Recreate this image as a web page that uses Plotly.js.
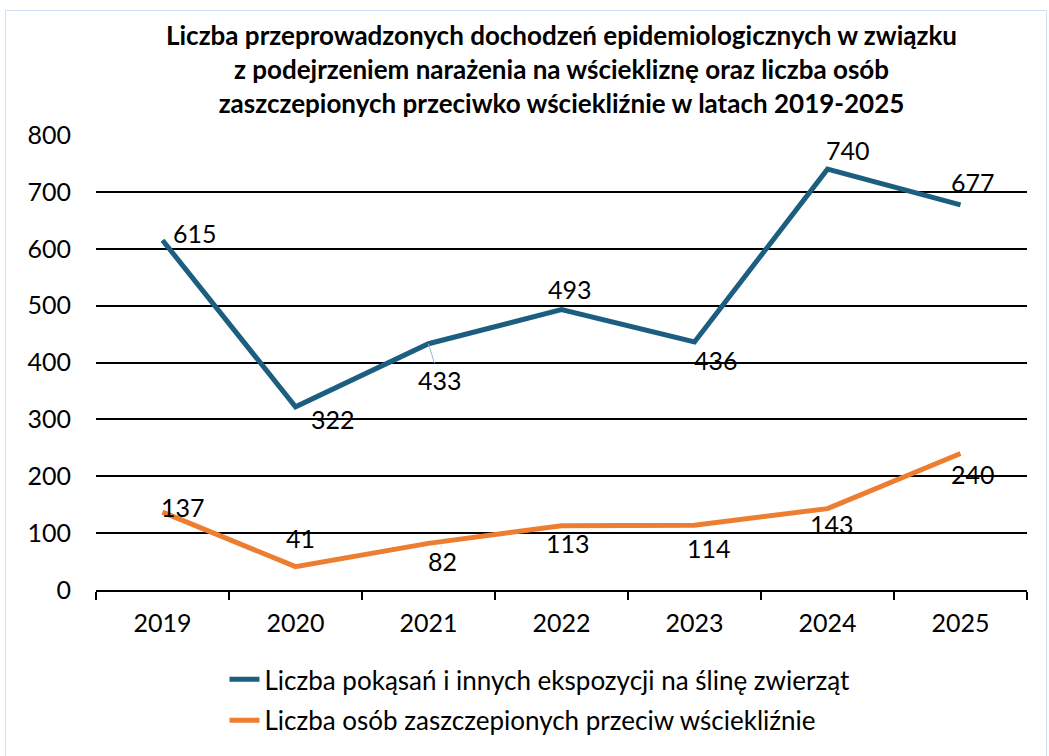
<!DOCTYPE html>
<html>
<head>
<meta charset="utf-8">
<script src="https://cdn.plot.ly/plotly-3.0.1.min.js"></script>
<style>
  body { margin: 0; background: #fff; }
  #chart { width: 1049px; height: 756px; }
  #frame { position: absolute; left: 5px; top: 10px; width: 1040px; height: 760px;
           border: 1.5px solid #cfe2f3; pointer-events: none; }
</style>
</head>
<body>
<div id="chart"></div>
<div id="frame"></div>
<script>
const years = ["2019", "2020", "2021", "2022", "2023", "2024", "2025"];
const bites = [615, 322, 433, 493, 436, 740, 677];
const vaccinated = [137, 41, 82, 113, 114, 143, 240];

const bitesName = "Liczba pokąsań i innych ekspozycji na ślinę zwierząt";
const vaccName = "Liczba osób zaszczepionych przeciw wściekliźnie";

// label offsets from the point, in px (right, down)
const bitesLabelShift = [[32, -7], [37, 12], [11, 36], [8, -21], [21, 18], [20, -19], [12, -23]];
const vaccLabelShift = [[20, -5], [5, -29], [14, 18], [6, 17], [14, 23], [4, 15], [12, 20]];

const labelFont = { family: "Lato, 'Liberation Sans', sans-serif", size: 25, color: "#000" };

const traces = [
  {
    x: years,
    y: bites,
    name: bitesName,
    legendgroup: "bites",
    type: "scatter",
    mode: "lines",
    line: { color: "#1b5e7f", width: 5 },
    hoverinfo: "x+y"
  },
  {
    x: years,
    y: vaccinated,
    name: vaccName,
    legendgroup: "vacc",
    type: "scatter",
    mode: "lines",
    line: { color: "#ed7d31", width: 5 },
    hoverinfo: "x+y"
  }
];

function makeLabels(values, shifts, leaderIndex) {
  const out = [];
  values.forEach((v, i) => {
    const dx = shifts[i][0];
    const dy = shifts[i][1];
    const ann = {
      x: i, y: v, xref: "x", yref: "y",
      text: String(v),
      font: labelFont,
      xanchor: "center", yanchor: "middle"
    };
    if (i === leaderIndex) {
      // 2021 blue label sits below with a thin leader line
      ann.showarrow = true;
      ann.arrowhead = 0;
      ann.arrowwidth = 1;
      ann.arrowcolor = "#8fb8de";
      ann.ax = dx;
      ann.ay = dy;
    } else {
      ann.showarrow = false;
      ann.xshift = dx;
      ann.yshift = -dy;
    }
    out.push(ann);
  });
  return out;
}

const titleAnnotation = {
  text: "<b>Liczba przeprowadzonych dochodzeń epidemiologicznych w związku<br>z podejrzeniem narażenia na wściekliznę oraz liczba osób<br>zaszczepionych przeciwko wściekliźnie w latach 2019-2025</b>",
  font: { family: "Lato, sans-serif", size: 26, color: "#000" },
  xref: "paper", yref: "paper",
  x: 0.5, y: 1.26,
  xanchor: "center", yanchor: "top",
  showarrow: false
};

const annotations = [titleAnnotation]
  .concat(makeLabels(bites, bitesLabelShift, 2))
  .concat(makeLabels(vaccinated, vaccLabelShift, -1));

const layout = {
  width: 1049,
  height: 756,
  font: { family: "Lato, sans-serif", size: 25, color: "#000" },
  xaxis: {
    type: "category",
    range: [-0.5, 6.5],
    showgrid: false,
    showline: true,
    linecolor: "#000",
    linewidth: 1.5,
    ticks: "outside",
    tickson: "boundaries",
    ticklen: 8,
    tickcolor: "#000",
    tickwidth: 1.5,
    ticklabelstandoff: 10,
    tickfont: { size: 25 },
    fixedrange: true
  },
  yaxis: {
    range: [0, 800],
    dtick: 100,
    showgrid: true,
    gridcolor: "#000",
    gridwidth: 1.5,
    zeroline: false,
    showline: false,
    ticks: "",
    ticklabelstandoff: 24,
    tickfont: { size: 25 },
    fixedrange: true
  },
  legend: {
    orientation: "v",
    x: 0.138,
    xanchor: "left",
    y: -0.145,
    yanchor: "top",
    tracegroupgap: 4,
    font: { size: 26 }
  },
  showlegend: true,
  annotations: annotations,
  margin: { t: 135, l: 96, r: 22, b: 164 },
  paper_bgcolor: "#fff",
  plot_bgcolor: "#fff"
};

Plotly.newPlot("chart", traces, layout, { displayModeBar: false });
</script>
</body>
</html>
